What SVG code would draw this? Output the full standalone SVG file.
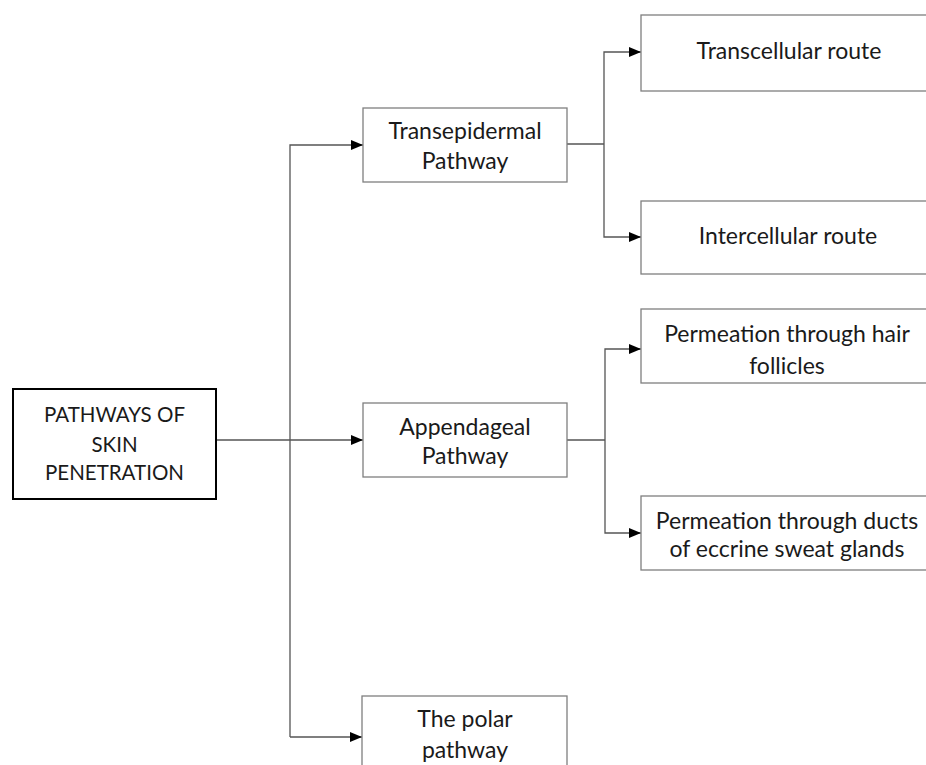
<svg xmlns="http://www.w3.org/2000/svg" width="926" height="765" viewBox="0 0 926 765">
<style>
.box{fill:#fff;stroke:#7f7f7f;stroke-width:1.3}
.main{fill:#fff;stroke:#000;stroke-width:2}
.t{font-family:Lato,"Open Sans",sans-serif;font-size:23px;fill:#1a1a1a;text-anchor:middle}
.caps{font-size:20.5px}
.c{fill:none;stroke:#555;stroke-width:1.3}
</style>
<defs>
<marker id="ah" markerWidth="12" markerHeight="10" refX="12" refY="5" orient="auto" markerUnits="userSpaceOnUse">
<path d="M0,0 L12,5 L0,10 Z" fill="#000"/>
</marker>
</defs>
<rect width="926" height="765" fill="#fff"/>
<g id="connectors">
<path class="c" d="M216,440 H363" marker-end="url(#ah)"/>
<path class="c" d="M290,737 V145 H363" marker-end="url(#ah)"/>
<path class="c" d="M290,737 H362" marker-end="url(#ah)"/>
<path class="c" d="M567,144 H604"/>
<path class="c" d="M604,144 V52 H641" marker-end="url(#ah)"/>
<path class="c" d="M604,144 V237 H641" marker-end="url(#ah)"/>
<path class="c" d="M567,440 H605"/>
<path class="c" d="M605,440 V349 H641" marker-end="url(#ah)"/>
<path class="c" d="M605,440 V533 H641" marker-end="url(#ah)"/>
</g>
<g id="main">
<rect class="main" x="13" y="389" width="203" height="110"/>
<text class="t caps" x="114.5" y="422">PATHWAYS OF</text>
<text class="t caps" x="114.5" y="452">SKIN</text>
<text class="t caps" x="114.5" y="480">PENETRATION</text>
</g>
<g id="transepidermal">
<rect class="box" x="363" y="108" width="204" height="74"/>
<text class="t" x="465" y="139">Transepidermal</text>
<text class="t" x="465" y="169">Pathway</text>
</g>
<g id="appendageal">
<rect class="box" x="363" y="403" width="204" height="74"/>
<text class="t" x="465" y="435">Appendageal</text>
<text class="t" x="465" y="464">Pathway</text>
</g>
<g id="polar">
<rect class="box" x="362" y="696" width="205" height="80"/>
<text class="t" x="465" y="727">The polar</text>
<text class="t" x="465" y="758">pathway</text>
</g>
<g id="transcellular">
<rect class="box" x="641" y="15" width="294" height="76"/>
<text class="t" x="789" y="59">Transcellular route</text>
</g>
<g id="intercellular">
<rect class="box" x="641" y="201" width="294" height="73"/>
<text class="t" x="788" y="244">Intercellular route</text>
</g>
<g id="hair">
<rect class="box" x="641" y="309" width="294" height="74"/>
<text class="t" x="787" y="342">Permeation through hair</text>
<text class="t" x="787" y="374">follicles</text>
</g>
<g id="ducts">
<rect class="box" x="641" y="496" width="294" height="74"/>
<text class="t" x="787" y="529">Permeation through ducts</text>
<text class="t" x="787" y="557">of eccrine sweat glands</text>
</g>
</svg>
